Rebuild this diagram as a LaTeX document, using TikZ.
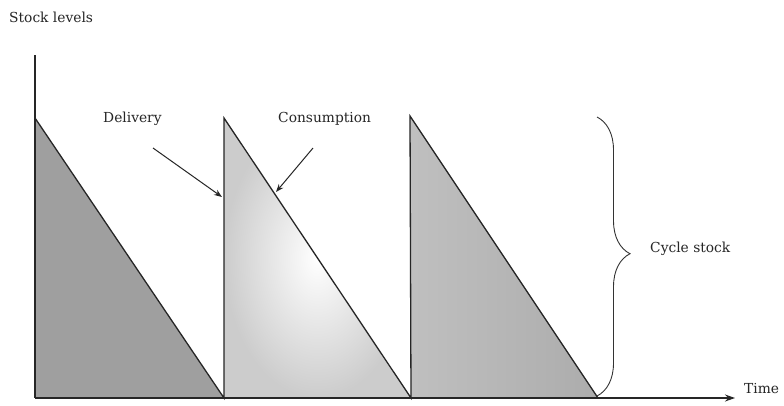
\documentclass[tikz,border=0pt]{standalone}
\usepackage{fontspec}
\setmainfont{DejaVu Serif}
\usetikzlibrary{arrows.meta,decorations.pathreplacing}
\begin{document}
\begin{tikzpicture}[x=1pt,y=-1pt,
  lbl/.style={font=\fontsize{13.8}{16}\selectfont, inner sep=0pt, text=black!85},
  edge/.style={line width=1.3pt, black!85},
  pointer/.style={line width=1pt, black!85, -{Stealth[length=8pt,width=6pt]}}]
\useasboundingbox[fill=white] (0,0) rectangle (784,405);
% points
\coordinate (O) at (35,398);
\coordinate (ytop) at (35,55);
\coordinate (xend) at (735,398);
\coordinate (t1) at (35,118);
\coordinate (b1) at (224,398);
\coordinate (t2) at (224,118);
\coordinate (b2) at (411,398);
\coordinate (t3) at (410,116);
\coordinate (b3) at (598,398);
% fills
\fill[gray!75] (O) -- (t1) -- (b1) -- cycle;
\shade[inner color=white, outer color=gray!40] (b1) -- (t2) -- (b2) -- cycle;
\shade[left color=gray!50, right color=gray!65] (b2) -- (t3) -- (b3) -- cycle;
% edges
\draw[edge] (ytop) -- (O);
\draw[edge] (t1) -- (b1) -- (t2) -- (b2) -- (t3) -- (b3);
\draw[edge, -{Stealth[length=10pt,width=7pt]}] (O) -- (xend);
% labels
\node[lbl, anchor=west] (stock) at (9,17) {Stock levels};
\node[lbl, anchor=west] (time) at (744,389) {Time};
\node[lbl, anchor=west] (deliv) at (103,119) {Delivery};
\node[lbl, anchor=west] (cons) at (278,119) {Consumption};
\node[lbl, anchor=west] (cyc) at (650,249) {Cycle stock};
% pointers
\coordinate (d0) at (153,148);
\coordinate (d1) at (222,197);
\coordinate (c0) at (313,148);
\coordinate (c1) at (276,192);
\draw[pointer] (d0) -- (d1);
\draw[pointer] (c0) -- (c1);
% brace
\coordinate (br0) at (597,117);
\coordinate (br1) at (597,396);
\draw[line width=0.9pt, black!80, decorate, decoration={brace, amplitude=33pt, aspect=0.49}] (br0) -- (br1);
\end{tikzpicture}
\end{document}
